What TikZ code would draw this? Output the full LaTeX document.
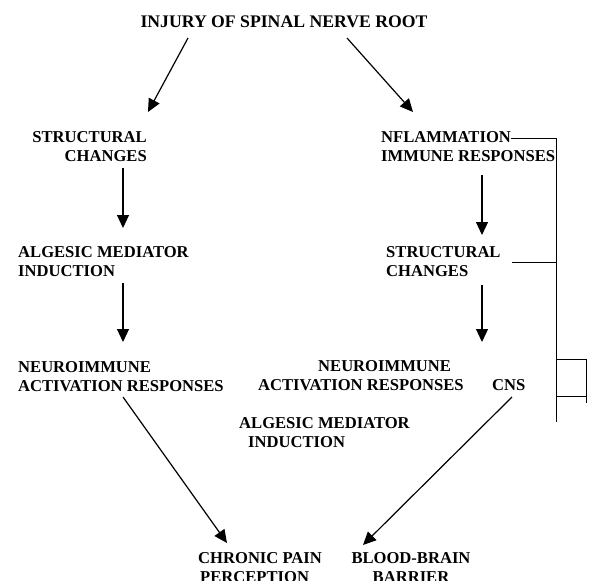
\documentclass[tikz,border=0pt]{standalone}
\usepackage{fontspec}
\setmainfont{Liberation Serif}
\usetikzlibrary{arrows.meta}
\begin{document}
\begin{tikzpicture}[x=1pt,y=-1pt,
  lbl/.style={inner sep=0pt,font=\fontsize{16.6}{18.5}\selectfont\bfseries},
  arr/.style={line width=1.2pt,-{Triangle[width=12pt,length=13pt]}},
  ln/.style={line width=1pt}]
\useasboundingbox[fill=white] (0,0) rectangle (590,581);
% texts
\node[lbl,font=\fontsize{17.7}{20}\selectfont\bfseries,anchor=base] (title) at (284,27) {INJURY OF SPINAL NERVE ROOT};
\node[lbl,align=right,anchor=north east] (L1) at (147,131.5) {STRUCTURAL\\CHANGES};
\node[lbl,align=left,anchor=north west] (L2) at (18,246.5) {ALGESIC MEDIATOR\\INDUCTION};
\node[lbl,align=left,anchor=north west] (L3) at (18,361.5) {NEUROIMMUNE\\ACTIVATION RESPONSES};
\node[lbl,align=left,anchor=north west] (R1) at (381,131.5) {NFLAMMATION\\IMMUNE RESPONSES};
\node[lbl,align=left,anchor=north west] (R2) at (386,246.5) {STRUCTURAL\\CHANGES};
\node[lbl,align=left,anchor=north west] (R3) at (258,360.5) {\hspace{60pt}NEUROIMMUNE\\ACTIVATION RESPONSES};
\node[lbl,anchor=base west] (CNS) at (492,390.5) {CNS};
\node[lbl,align=left,anchor=north west] (AM) at (239,417.5) {ALGESIC MEDIATOR\\\hspace{9pt}INDUCTION};
\node[lbl,align=left,anchor=north west] (CP) at (198,552.5) {CHRONIC PAIN\\\hspace{2pt}PERCEPTION};
\node[lbl,align=center,anchor=north] (BB) at (411,552.5) {BLOOD-BRAIN\\BARRIER};
% connector end points
\coordinate (t1) at (188,38);  \coordinate (h1) at (148,112);
\coordinate (t2) at (347,38);  \coordinate (h2) at (413,112);
\coordinate (t3) at (123,168); \coordinate (h3) at (123,228);
\coordinate (t4) at (123,283); \coordinate (h4) at (123,342);
\coordinate (t5) at (482,175); \coordinate (h5) at (482,235);
\coordinate (t6) at (482,285); \coordinate (h6) at (482,342);
\coordinate (t7) at (123,397); \coordinate (h7) at (227,543);
\coordinate (t8) at (512,397); \coordinate (h8) at (363,545);
\draw[arr] (t1) -- (h1);
\draw[arr] (t2) -- (h2);
\draw[arr] (t3) -- (h3);
\draw[arr] (t4) -- (h4);
\draw[arr] (t5) -- (h5);
\draw[arr] (t6) -- (h6);
\draw[arr] (t7) -- (h7);
\draw[arr] (t8) -- (h8);
% bracket
\coordinate (b1) at (511,138); \coordinate (b2) at (556,138);
\coordinate (b3) at (556,422);
\coordinate (b4) at (512,262); \coordinate (b5) at (556,262);
\coordinate (b6) at (556,359); \coordinate (b7) at (586,359); \coordinate (b8) at (586,403);
\coordinate (b9) at (556,396); \coordinate (b10) at (586,396);
\draw[ln] (b1) -- (b2) -- (b3);
\draw[ln] (b4) -- (b5);
\draw[ln] (b6) -- (b7) -- (b8);
\draw[ln] (b9) -- (b10);
\end{tikzpicture}
\end{document}
